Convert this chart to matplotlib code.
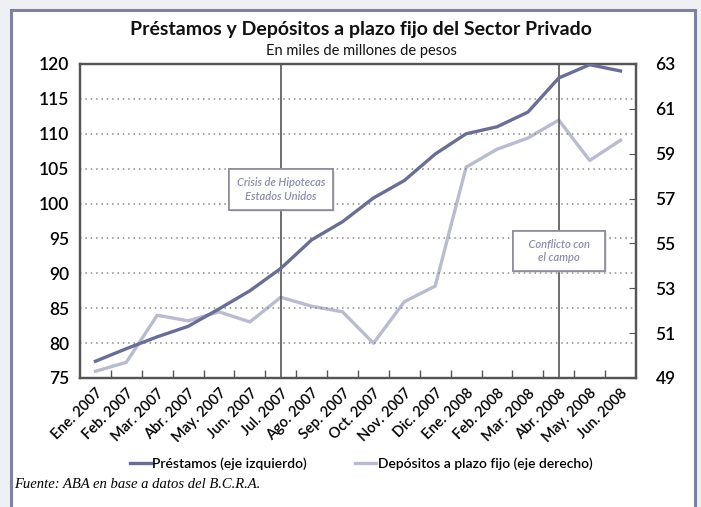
import matplotlib.pyplot as plt
import matplotlib.patheffects as pe
from matplotlib.patches import Rectangle

meses = ['Ene. 2007', 'Feb. 2007', 'Mar. 2007', 'Abr. 2007', 'May. 2007', 'Jun. 2007',
         'Jul. 2007', 'Ago. 2007', 'Sep. 2007', 'Oct. 2007', 'Nov. 2007', 'Dic. 2007',
         'Ene. 2008', 'Feb. 2008', 'Mar. 2008', 'Abr. 2008', 'May. 2008', 'Jun. 2008']
# eje izquierdo
prestamos = [77.4, 79.2, 80.9, 82.4, 84.9, 87.5, 90.7, 94.8, 97.4, 100.8, 103.3, 107.1,
             110.0, 111.0, 113.1, 118.0, 119.9, 119.0]
# eje derecho
depositos = [49.3, 49.7, 51.8, 51.55, 51.95, 51.5, 52.6, 52.2, 51.95, 50.55, 52.4, 53.1,
             58.4, 59.2, 59.7, 60.5, 58.7, 59.6]
eventos = [(6, 'Crisis de Hipotecas\nEstados Unidos', 102.0),
           (15, '   Conflicto con   \nel campo', 93.2)]

plt.rcParams['font.family'] = ['Lato', 'DejaVu Sans']
c_prest = '#6a6e95'
c_dep = '#b9bbd0'
c_ax = '#555555'

fig = plt.figure(figsize=(7.01, 5.07), dpi=100)
fig.patch.set_facecolor('#eef0f4')
fig.patches.append(Rectangle((11 / 701, -0.05), 684 / 701, 1.05 - 10 / 507,
                             transform=fig.transFigure, facecolor='white',
                             edgecolor='#7d82a3', lw=2.2, zorder=-10))

ax = fig.add_axes([80 / 701, 1 - 378 / 507, 556 / 701, 314 / 507])
ax2 = ax.twinx()
x = list(range(len(meses)))

ax.plot(x, prestamos, color=c_prest, lw=2.4, label='Préstamos (eje izquierdo)', zorder=4)
ax2.plot(x, depositos, color=c_dep, lw=2.4, label='Depósitos a plazo fijo (eje derecho)')
ax.set_zorder(ax2.get_zorder() + 1)
ax.patch.set_visible(False)

ax.set_xlim(-0.5, len(meses) - 0.5)
ax.set_ylim(75, 120)
ax2.set_ylim(49, 63)
ax.set_yticks(range(75, 121, 5))
ax2.set_yticks(range(49, 64, 2))
for v in range(80, 120, 5):
    ax.axhline(v, color='#8a8a8a', ls=(0, (1, 2.5)), lw=1.1, zorder=1)

ax.set_xticks(x)
ax.set_xticklabels(meses, rotation=45, ha='right', rotation_mode='anchor', fontsize=10.5,
                   fontweight='semibold')
ax.set_xticks([i + 0.5 for i in x[:-1]], minor=True)
ax.tick_params(axis='x', which='major', length=0, pad=6)
ax.tick_params(axis='x', which='minor', direction='in', length=6, color=c_ax, width=1)
ax.tick_params(axis='y', length=0, labelsize=12.5, pad=8)
ax2.tick_params(axis='y', direction='in', length=5, color=c_ax, labelsize=12.5, pad=14)
for lab in ax.get_yticklabels() + ax2.get_yticklabels():
    lab.set_fontweight('semibold')
for a in (ax, ax2):
    for s in a.spines.values():
        s.set_color(c_ax)
        s.set_linewidth(1.6)

for xi, txt, yv in eventos:
    ax.axvline(xi, color=c_ax, lw=1.2, zorder=2)
    t = ax.text(xi, yv, txt, ha='center', va='center', fontsize=8, style='italic',
                fontweight='semibold', color='#8a8ea8', linespacing=1.3, zorder=5,
                bbox=dict(boxstyle='square,pad=0.7', fc='white', ec='#8c8c98', lw=1.2))
    t.get_bbox_patch().set_path_effects([pe.withSimplePatchShadow(offset=(1.5, -1.5),
                                                                  shadow_rgbFace='#bbbbbb'),
                                         pe.Normal()])

fig.text(0.515, 1 - 30 / 507, 'Préstamos y Depósitos a plazo fijo del Sector Privado',
         ha='center', va='center', fontsize=14, fontweight='bold', color='#111111')
fig.text(0.515, 1 - 51 / 507, 'En miles de millones de pesos', ha='center', va='center',
         fontsize=10.5, color='#111111')

h1, l1 = ax.get_legend_handles_labels()
h2, l2 = ax2.get_legend_handles_labels()
fig.legend(h1 + h2, l1 + l2, loc='center', bbox_to_anchor=(0.515, 1 - 464 / 507), ncol=2,
           frameon=False, prop={'size': 10, 'weight': 'semibold'}, handlelength=1.5,
           handletextpad=0.1, columnspacing=3.5)

fig.text(14 / 701, 1 - 484 / 507, 'Fuente: ABA en base a datos del B.C.R.A.', ha='left',
         va='center', fontsize=10.5, style='italic', family='Liberation Serif')

fig.savefig('out.png', dpi=100, facecolor=fig.get_facecolor())
